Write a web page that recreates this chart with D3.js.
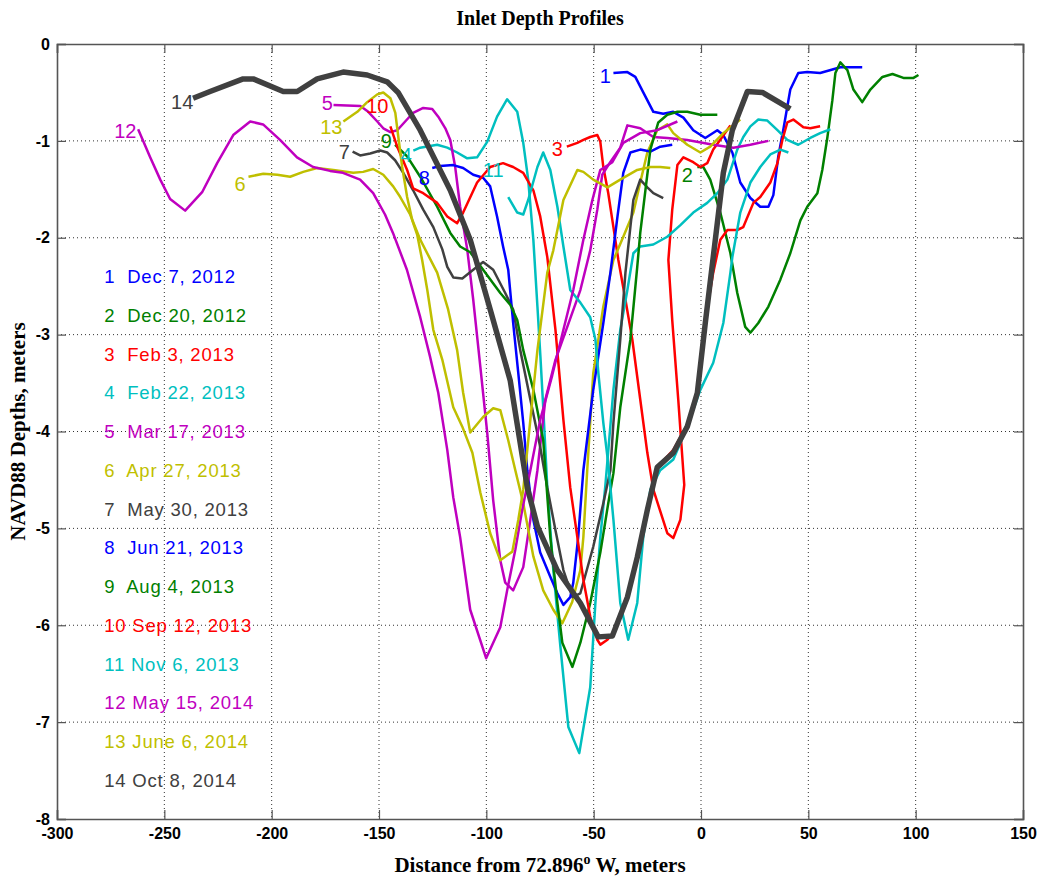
<!DOCTYPE html>
<html>
<head>
<meta charset="utf-8">
<script src="https://cdn.jsdelivr.net/npm/d3@7/dist/d3.min.js"></script>
<style>
  body { margin: 0; background: #fff; }
</style>
</head>
<body>
<div id="chart"></div>
<script>
//Tick values
const xTicks = [-300, -250, -200, -150, -100, -50, 0, 50, 100, 150];
const yTicks = [0, -1, -2, -3, -4, -5, -6, -7, -8];

//Survey names
const profileNumbers = ["1","2","3","4","5","6","7","8","9","10","11","12","13","14"];
const surveyDates = ["Dec 7, 2012","Dec 20, 2012","Feb 3, 2013","Feb 22, 2013","Mar 17, 2013",
  "Apr 27, 2013","May 30, 2013","Jun 21, 2013","Aug 4, 2013","Sep 12, 2013","Nov 6, 2013",
  "May 15, 2014","June 6, 2014","Oct 8, 2014"];

//Profiles: [distance (m), depth (m)]
const profile1 = [[-40.8,-0.30],[-34.3,-0.29],[-30.6,-0.34],[-26.9,-0.50],[-22.2,-0.70],[-17.6,-0.72],
  [-12.9,-0.70],[-8.2,-0.76],[-3.6,-0.89],[2.0,-0.97],[7.6,-0.89],[10.4,-0.94],[14.6,-1.12],[18.3,-1.43],
  [23.0,-1.59],[27.6,-1.68],[31.4,-1.68],[33.7,-1.56],[36.0,-1.16],[38.3,-0.89],[41.6,-0.47],[45.3,-0.30],
  [49.5,-0.29],[55.5,-0.30],[64.9,-0.24],[75.1,-0.24]];
const profile2 = [[-1.7,-1.27],[1.1,-1.27],[4.3,-1.40],[9.0,-1.74],[13.7,-2.16],[16.9,-2.57],[20.6,-2.92],
  [23.0,-2.98],[26.7,-2.88],[31.4,-2.71],[37.0,-2.43],[41.6,-2.16],[46.3,-1.82],[49.5,-1.68],[54.2,-1.54],
  [56.5,-1.30],[58.9,-0.96],[61.2,-0.58],[62.6,-0.30],[64.9,-0.19],[68.2,-0.27],[71.0,-0.47],[75.1,-0.60],
  [78.9,-0.47],[84.5,-0.34],[89.2,-0.31],[94.3,-0.35],[99.0,-0.35],[101.3,-0.32]];
const profile3 = [[-62.5,-1.06],[-57.6,-1.02],[-54.8,-0.99],[-51.6,-0.96],[-48.3,-0.94],[-46.9,-1.01],
  [-45.5,-1.27],[-43.2,-1.54],[-40.8,-1.89],[-38.5,-2.23],[-35.2,-2.64],[-32.0,-3.05],[-28.3,-3.67],
  [-25.0,-4.22],[-22.2,-4.60],[-15.7,-5.05],[-12.9,-5.10],[-9.6,-4.91],[-7.8,-4.55],[-10.6,-3.67],
  [-13.4,-2.85],[-15.2,-2.23],[-13.4,-1.71],[-11.0,-1.25],[-8.2,-1.17],[-3.6,-1.22],[-0.3,-1.27],
  [2.9,-1.23],[5.7,-1.09],[9.9,-0.96],[13.7,-0.84]];
const profile4 = [[-134.0,-1.10],[-130.8,-1.07],[-122.9,-1.04],[-118.2,-1.07],[-113.6,-1.12],[-108.9,-1.18],
  [-104.3,-1.17],[-99.6,-1.01],[-95.0,-0.75],[-90.3,-0.57],[-85.6,-0.70],[-82.8,-1.02],[-80.5,-1.40],
  [-78.1,-2.02],[-76.2,-2.71],[-74.8,-3.23],[-73.5,-3.75],[-71.6,-4.58],[-68.8,-5.43],[-65.5,-6.22],
  [-61.8,-7.05],[-56.7,-7.32],[-51.6,-6.64],[-49.2,-5.77],[-46.9,-5.09],[-44.6,-4.57],[-40.8,-3.57],
  [-37.6,-2.95],[-34.3,-2.54],[-31.5,-2.16],[-28.3,-2.09],[-22.2,-2.07],[-15.7,-1.99],[-9.6,-1.87],
  [-3.6,-1.74],[2.9,-1.64],[7.6,-1.54],[12.3,-1.40],[16.9,-1.09],[19.7,-0.96],[23.0,-0.85],[26.7,-0.78],
  [30.9,-0.79],[35.6,-0.89],[40.2,-0.99],[45.3,-1.04],[50.9,-0.97],[55.5,-0.92],[60.3,-0.88]];
const profile5 = [[-171.2,-0.63],[-158.7,-0.64],[-155.0,-0.70],[-150.8,-0.80],[-148.0,-0.87],[-144.7,-0.91],
  [-141.5,-0.89],[-137.8,-0.80],[-134.1,-0.71],[-129.4,-0.66],[-125.2,-0.67],[-122.4,-0.75],[-119.1,-0.87],
  [-116.8,-0.99],[-114.5,-1.27],[-112.2,-1.68],[-108.9,-2.12],[-106.1,-2.64],[-102.8,-3.33],[-99.6,-4.01],
  [-96.8,-4.71],[-93.5,-5.33],[-91.2,-5.56],[-87.5,-5.64],[-82.8,-5.40],[-79.5,-4.91],[-76.2,-4.40],
  [-72.5,-3.67],[-67.8,-3.26],[-62.3,-2.92],[-56.2,-2.54],[-51.6,-2.13],[-48.3,-1.71],[-46.0,-1.35],
  [-42.3,-1.22],[-37.6,-1.07],[-34.3,-0.84],[-28.3,-0.87],[-22.2,-0.96],[-15.7,-0.97],[-6.4,-0.99],
  [5.7,-1.04],[15.1,-1.07],[23.0,-1.04],[31.4,-1.00]];
const profile6 = [[-210.8,-1.37],[-203.9,-1.34],[-197.4,-1.35],[-191.4,-1.37],[-185.3,-1.32],[-178.8,-1.28],
  [-171.3,-1.30],[-162.0,-1.33],[-157.4,-1.32],[-152.7,-1.29],[-148.0,-1.35],[-143.4,-1.47],[-140.1,-1.58],
  [-135.5,-1.76],[-130.8,-2.02],[-122.9,-2.36],[-117.8,-2.74],[-113.6,-3.16],[-110.8,-3.60],[-107.5,-4.01],
  [-101.5,-3.85],[-96.8,-3.76],[-93.5,-3.78],[-89.8,-4.09],[-86.5,-4.40],[-82.8,-4.74],[-78.1,-5.29],
  [-73.5,-5.64],[-68.8,-5.84],[-64.6,-5.98],[-60.0,-5.76],[-56.2,-5.43],[-54.8,-5.09],[-53.0,-4.40],
  [-50.2,-3.40],[-45.5,-2.71],[-40.8,-2.23],[-36.2,-1.99],[-31.5,-1.74],[-28.3,-1.43],[-25.0,-1.12],
  [-20.4,-0.89],[-15.7,-0.83],[-12.9,-0.92],[-6.4,-1.04],[-0.3,-1.12],[4.3,-1.06],[10.4,-0.92],[18.3,-0.78]];
const profile7 = [[-162.3,-1.11],[-158.8,-1.15],[-154.1,-1.13],[-149.4,-1.10],[-146.2,-1.12],[-142.5,-1.20],
  [-138.7,-1.33],[-134.1,-1.51],[-129.4,-1.71],[-124.7,-1.89],[-120.5,-2.12],[-118.2,-2.30],[-115.4,-2.41],
  [-111.2,-2.42],[-106.1,-2.33],[-101.5,-2.25],[-96.8,-2.33],[-91.2,-2.57],[-87.5,-2.74],[-84.2,-3.16],
  [-79.5,-3.67],[-74.9,-4.16],[-71.6,-4.58],[-67.8,-5.02],[-64.1,-5.43],[-59.9,-5.71],[-56.2,-5.67],
  [-50.2,-5.19],[-45.5,-4.74],[-42.2,-4.40],[-40.8,-3.91],[-37.6,-3.05],[-35.2,-2.36],[-32.9,-1.89],
  [-31.5,-1.61],[-28.3,-1.40],[-25.0,-1.48],[-22.2,-1.54],[-17.6,-1.59]];
const profile8 = [[-125.2,-1.28],[-121.5,-1.26],[-115.4,-1.25],[-110.8,-1.28],[-106.1,-1.35],[-101.5,-1.38],
  [-98.2,-1.47],[-95.0,-1.78],[-92.2,-2.09],[-89.8,-2.33],[-87.5,-2.88],[-85.1,-3.40],[-82.8,-3.91],
  [-80.9,-4.40],[-78.1,-4.91],[-74.9,-5.25],[-70.2,-5.50],[-66.9,-5.67],[-64.1,-5.79],[-60.9,-5.71],
  [-59.5,-5.56],[-57.2,-5.09],[-54.8,-4.40],[-50.2,-3.57],[-45.5,-2.88],[-42.2,-2.36],[-38.9,-1.78],
  [-36.2,-1.33],[-32.9,-1.12],[-28.3,-1.09],[-23.6,-1.11],[-19.0,-1.06],[-13.4,-1.04]];
const profile9 = [[-142.5,-1.04],[-136.9,-1.16],[-130.8,-1.37],[-122.9,-1.68],[-116.8,-1.95],[-112.2,-2.09],
  [-107.5,-2.15],[-101.5,-2.33],[-93.5,-2.57],[-88.9,-2.69],[-85.6,-2.85],[-82.8,-3.16],[-78.1,-3.57],
  [-73.5,-4.09],[-70.2,-5.09],[-66.9,-5.77],[-64.6,-6.18],[-59.9,-6.43],[-56.2,-6.18],[-51.6,-5.77],
  [-46.9,-5.25],[-43.2,-4.74],[-40.8,-4.43],[-37.6,-3.75],[-32.9,-3.05],[-29.7,-2.30],[-28.3,-1.95],
  [-25.9,-1.51],[-23.6,-1.09],[-19.9,-0.81],[-15.7,-0.73],[-11.0,-0.70],[-6.4,-0.70],[-0.3,-0.73],[7.6,-0.73]];
const profile10 = [[-144.7,-0.85],[-141.5,-1.06],[-136.9,-1.30],[-134.1,-1.49],[-129.4,-1.54],[-122.9,-1.64],
  [-118.2,-1.78],[-113.6,-1.85],[-110.8,-1.74],[-104.3,-1.43],[-98.2,-1.27],[-92.2,-1.23],[-87.5,-1.27],
  [-82.8,-1.33],[-78.1,-1.51],[-74.9,-1.78],[-71.6,-2.20],[-67.8,-2.95],[-64.1,-3.88],[-60.9,-4.58],
  [-57.6,-5.09],[-54.8,-5.53],[-51.6,-5.91],[-48.3,-6.15],[-46.9,-6.20],[-43.6,-6.15],[-39.9,-6.05],
  [-34.3,-5.71],[-29.7,-5.30],[-25.0,-4.81],[-20.4,-4.37],[-12.9,-4.19],[-6.4,-3.93],[-1.7,-3.57],
  [2.0,-2.85],[5.7,-2.36],[9.0,-2.02],[12.3,-1.92],[16.9,-1.92],[19.7,-1.89],[24.4,-1.64],[27.6,-1.58],
  [32.3,-1.43],[35.6,-1.23],[37.9,-0.99],[40.2,-0.81],[43.0,-0.78],[47.7,-0.86],[50.9,-0.87],[55.5,-0.85]];
const profile11 = [[-89.8,-1.58],[-85.6,-1.74],[-82.8,-1.76],[-80.5,-1.61],[-76.2,-1.27],[-73.5,-1.12],
  [-70.2,-1.30],[-66.9,-1.68],[-64.1,-2.09],[-60.9,-2.54],[-56.2,-2.67],[-51.6,-2.82],[-49.2,-3.05],
  [-47.8,-3.40],[-45.5,-3.91],[-43.6,-4.26],[-42.2,-4.58],[-40.8,-4.91],[-37.6,-5.77],[-33.9,-6.15],
  [-29.7,-5.77],[-26.9,-5.09],[-23.6,-4.60],[-19.0,-4.40],[-12.9,-4.29],[-6.4,-3.95],[-0.3,-3.57],
  [5.7,-3.29],[10.4,-2.88],[13.7,-2.36],[14.6,-2.20],[18.3,-1.74],[23.0,-1.43],[27.6,-1.27],[32.3,-1.14],
  [37.0,-1.09],[40.7,-1.12]];
const profile12 = [[-262.2,-0.88],[-256.6,-1.17],[-251.9,-1.40],[-247.3,-1.60],[-240.3,-1.72],[-232.4,-1.53],
  [-225.4,-1.23],[-217.9,-0.94],[-210.0,-0.80],[-204.0,-0.83],[-196.1,-0.99],[-188.2,-1.17],[-180.7,-1.27],
  [-172.8,-1.31],[-166.8,-1.33],[-158.8,-1.40],[-152.7,-1.54],[-147.2,-1.76],[-143.5,-1.95],[-137.0,-2.33],
  [-130.8,-2.82],[-126.2,-3.23],[-122.4,-3.60],[-118.2,-4.19],[-115.4,-4.68],[-112.2,-5.09],[-107.5,-5.84],
  [-100.1,-6.34],[-93.5,-6.02],[-90.3,-5.64],[-86.5,-5.22],[-83.3,-4.81],[-79.5,-4.40],[-74.9,-3.88],
  [-69.3,-3.42],[-64.1,-2.95],[-59.5,-2.54],[-54.8,-2.02],[-50.6,-1.61],[-46.9,-1.30],[-41.3,-1.22],
  [-36.2,-1.02],[-28.3,-0.92],[-20.4,-0.89],[-11.0,-0.80]];
const profile13 = [[-166.6,-0.80],[-160.1,-0.70],[-155.5,-0.60],[-150.8,-0.52],[-148.0,-0.50],[-144.7,-0.56],
  [-142.4,-0.71],[-141.0,-0.96],[-139.2,-1.27],[-136.9,-1.58],[-134.5,-1.82],[-132.2,-1.97],[-129.9,-2.23],
  [-127.5,-2.54],[-124.7,-2.95],[-120.5,-3.26],[-115.4,-3.75],[-111.2,-3.95],[-106.5,-4.22],[-102.8,-4.63],
  [-98.2,-5.05],[-93.5,-5.33],[-87.9,-5.24],[-85.1,-4.91],[-82.8,-4.60],[-79.5,-3.88],[-76.2,-3.16],
  [-71.6,-2.36],[-68.8,-2.13],[-64.1,-1.61],[-57.6,-1.30],[-54.8,-1.32],[-50.2,-1.40],[-43.6,-1.48],
  [-37.6,-1.40],[-29.7,-1.30],[-23.6,-1.27],[-19.0,-1.27],[-14.3,-1.28]];
const profile14 = [[-236.6,-0.56],[-228.7,-0.49],[-213.3,-0.36],[-208.6,-0.36],[-194.6,-0.49],[-188.1,-0.49],
  [-178.8,-0.36],[-166.7,-0.29],[-155.5,-0.32],[-146.2,-0.39],[-141.1,-0.50],[-130.8,-0.89],[-116.8,-1.51],
  [-107.5,-2.02],[-98.2,-2.74],[-88.9,-3.47],[-80.9,-4.58],[-76.2,-4.98],[-67.0,-5.43],[-56.2,-5.77],
  [-47.9,-6.12],[-41.3,-6.11],[-34.3,-5.71],[-29.7,-5.30],[-25.0,-4.81],[-20.4,-4.37],[-12.9,-4.22],
  [-6.4,-3.95],[-1.7,-3.60],[2.0,-2.88],[5.7,-2.20],[10.4,-1.33],[14.6,-0.89],[21.6,-0.49],[28.6,-0.50],
  [41.6,-0.67]];

//Where each profile number is written on the plot (data units)
const numberSpots = [[-44.6,-0.33],[-6.4,-1.35],[-66.9,-1.08],[-137.3,-1.15],[-174.1,-0.61],[-214.7,-1.44],
  [-166.2,-1.11],[-128.9,-1.38],[-146.6,-1.00],[-150.8,-0.64],[-96.8,-1.30],[-268.2,-0.90],[-172.2,-0.86],
  [-241.7,-0.60]];

const profiles = [profile1, profile2, profile3, profile4, profile5, profile6, profile7,
                  profile8, profile9, profile10, profile11, profile12, profile13, profile14];

//MATLAB-ish colours
const colors = ["#0000ff","#008000","#ff0000","#00bfbf","#bf00bf","#bfbf00","#404040",
                "#0000ff","#008000","#ff0000","#00bfbf","#bf00bf","#bfbf00","#404040"];

//Width and height
const W = 1039, H = 877;
const margin = { top: 44, right: 16, bottom: 58, left: 57 };
const width = W - margin.left - margin.right;
const height = H - margin.top - margin.bottom;

const svg = d3.select("#chart").append("svg")
  .attr("width", W).attr("height", H);

const g = svg.append("g")
  .attr("transform", "translate(" + margin.left + "," + margin.top + ")");

//Scales
const x = d3.scaleLinear().domain([-300, 150]).range([0, width]);
const y = d3.scaleLinear().domain([-8, 0]).range([height, 0]);

//Dotted grid
g.selectAll(".vgrid")
  .data(xTicks.slice(1, -1)).enter()
  .append("line")
    .attr("x1", d => x(d)).attr("x2", d => x(d))
    .attr("y1", 0).attr("y2", height)
    .attr("stroke", "#333").attr("stroke-width", 1)
    .attr("stroke-dasharray", "1,3");
g.selectAll(".hgrid")
  .data(yTicks.slice(1, -1)).enter()
  .append("line")
    .attr("x1", 0).attr("x2", width)
    .attr("y1", d => y(d)).attr("y2", d => y(d))
    .attr("stroke", "#333").attr("stroke-width", 1)
    .attr("stroke-dasharray", "1,3");

//Axes (ticks inward, box)
const axisColor = "#555";
const plainNumber = d => String(d);   // ASCII hyphen like the original
function styleAxis(sel) {
  sel.select(".domain").attr("stroke", axisColor).attr("stroke-width", 1.6);
  sel.selectAll(".tick line").attr("stroke", axisColor).attr("stroke-width", 1.2);
  sel.selectAll(".tick text")
    .attr("font-family", "Liberation Sans, Arial, sans-serif")
    .attr("font-weight", "bold")
    .attr("font-size", "16px")
    .attr("fill", "#000");
}
g.append("g")
  .attr("transform", "translate(0," + height + ")")
  .call(d3.axisBottom(x).tickValues(xTicks).tickSize(-9).tickPadding(9).tickFormat(plainNumber))
  .call(styleAxis);
g.append("g")
  .call(d3.axisLeft(y).tickValues(yTicks).tickSize(-9).tickPadding(7).tickFormat(plainNumber))
  .call(styleAxis);
g.append("g")
  .call(d3.axisTop(x).tickValues(xTicks).tickSize(-9).tickFormat(""))
  .call(styleAxis);
g.append("g")
  .attr("transform", "translate(" + width + ",0)")
  .call(d3.axisRight(y).tickValues(yTicks).tickSize(-9).tickFormat(""))
  .call(styleAxis);

//Profiles
const line = d3.line()
  .x(d => x(d[0]))
  .y(d => y(d[1]));

g.selectAll(".profile")
  .data(profiles).enter()
  .append("path")
    .attr("class", "profile")
    .attr("d", line)
    .attr("fill", "none")
    .attr("stroke", (d, i) => colors[i])
    .attr("stroke-width", (d, i) => i === 13 ? 5.5 : 2.5)
    .attr("stroke-linejoin", "round");

//Profile numbers on the plot
g.selectAll(".pnum")
  .data(numberSpots).enter()
  .append("text")
    .attr("x", d => x(d[0]))
    .attr("y", d => y(d[1]))
    .attr("text-anchor", "middle")
    .attr("dominant-baseline", "central")
    .attr("font-family", "Liberation Sans, Arial, sans-serif")
    .attr("font-size", "20px")
    .attr("fill", (d, i) => colors[i])
    .text((d, i) => profileNumbers[i]);

//Legend written as text at x=-278, y=-2.4 step -0.4
g.selectAll(".legend")
  .data(surveyDates).enter()
  .append("text")
    .attr("x", x(-278))
    .attr("y", (d, i) => y(-2.4 - 0.4 * i))
    .attr("dominant-baseline", "central")
    .attr("font-family", "Liberation Sans, Arial, sans-serif")
    .attr("font-size", "18.5px")
    .attr("letter-spacing", "0.8px")
    .style("white-space", "pre")
    .attr("fill", (d, i) => colors[i])
    .text((d, i) => profileNumbers[i] + (profileNumbers[i].length < 2 ? "  " : " ") + d);

//Titles
svg.append("text")
  .attr("x", margin.left + width / 2).attr("y", 25)
  .attr("text-anchor", "middle")
  .attr("font-family", "Liberation Serif, Times New Roman, serif")
  .attr("font-weight", "bold").attr("font-size", "20px")
  .text("Inlet Depth Profiles");

const xl = svg.append("text")
  .attr("x", margin.left + width / 2).attr("y", 872)
  .attr("text-anchor", "middle")
  .attr("font-family", "Liberation Serif, Times New Roman, serif")
  .attr("font-weight", "bold").attr("font-size", "21px");
xl.append("tspan").text("Distance from 72.896");
xl.append("tspan").attr("dy", -8).attr("font-size", "14px").text("o");
xl.append("tspan").attr("dy", 8).text(" W, meters");

svg.append("text")
  .attr("transform", "translate(25," + (margin.top + height / 2) + ") rotate(-90)")
  .attr("text-anchor", "middle")
  .attr("font-family", "Liberation Serif, Times New Roman, serif")
  .attr("font-weight", "bold").attr("font-size", "21px")
  .text("NAVD88 Depths, meters");
</script>
</body>
</html>
